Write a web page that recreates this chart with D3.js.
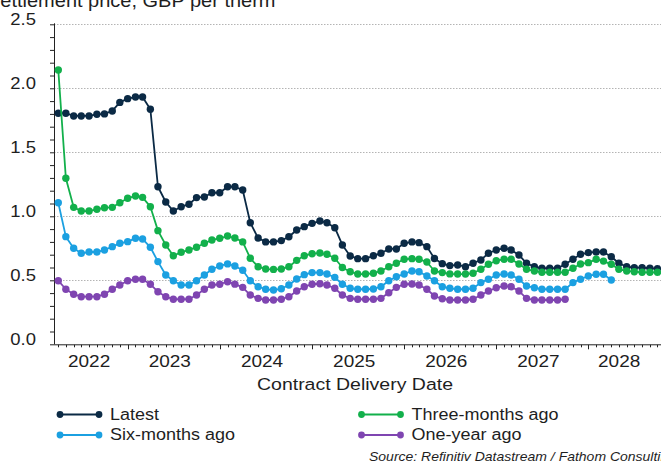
<!DOCTYPE html>
<html><head><meta charset="utf-8">
<script src="https://cdn.jsdelivr.net/npm/d3@7"></script>
<style>
html,body{margin:0;padding:0;background:#fff;overflow:hidden;}
svg{display:block;}
text{font-family:"Liberation Sans",Arial,sans-serif;fill:#1e1e1e;}
</style></head>
<body>
<svg id="chart" width="661" height="461"></svg>
<script>
// ---------- data ----------
const firstContract = new Date(2022, 2, 1); // March 2022 contract (plotted at month end)
const seriesNames = ["Latest", "Three-months ago", "Six-months ago", "One-year ago"];
const latest = [1.805,1.805,1.784,1.784,1.784,1.797,1.80,1.823,1.89,1.919,1.932,1.932,1.836,1.231,1.112,1.041,1.075,1.094,1.146,1.151,1.184,1.184,1.231,1.231,1.205,0.95,0.83,0.80,0.80,0.81,0.84,0.893,0.919,0.945,0.963,0.95,0.911,0.776,0.69,0.669,0.669,0.692,0.711,0.745,0.745,0.789,0.80,0.794,0.763,0.67,0.63,0.615,0.62,0.606,0.633,0.659,0.711,0.737,0.75,0.737,0.698,0.633,0.606,0.594,0.594,0.594,0.625,0.664,0.703,0.716,0.721,0.721,0.684,0.633,0.606,0.599,0.599,0.594,0.591];
const threeMonthsAgo = [2.143,1.297,1.07,1.041,1.041,1.055,1.067,1.07,1.106,1.141,1.159,1.148,1.075,0.888,0.776,0.692,0.719,0.737,0.758,0.789,0.815,0.828,0.846,0.83,0.80,0.672,0.606,0.588,0.585,0.588,0.606,0.656,0.692,0.708,0.713,0.703,0.672,0.60,0.567,0.549,0.549,0.555,0.573,0.606,0.633,0.664,0.669,0.664,0.643,0.573,0.56,0.55,0.549,0.549,0.555,0.586,0.625,0.653,0.664,0.664,0.627,0.586,0.573,0.5625,0.5625,0.5625,0.5625,0.594,0.627,0.638,0.664,0.65,0.625,0.586,0.573,0.567,0.5625,0.5625,0.5625];
const sixMonthsAgo = [1.106,0.841,0.75,0.711,0.721,0.721,0.737,0.763,0.789,0.802,0.828,0.823,0.758,0.646,0.541,0.497,0.463,0.463,0.497,0.541,0.586,0.612,0.628,0.612,0.578,0.497,0.45,0.43,0.424,0.434,0.463,0.51,0.544,0.56,0.56,0.549,0.523,0.469,0.4375,0.43,0.43,0.432,0.45,0.497,0.528,0.549,0.573,0.567,0.534,0.497,0.45,0.4375,0.43,0.43,0.4375,0.482,0.508,0.541,0.549,0.541,0.508,0.455,0.442,0.43,0.43,0.43,0.43,0.482,0.508,0.534,0.547,0.547,0.502];
const oneYearAgo = [0.497,0.43,0.391,0.372,0.372,0.372,0.391,0.43,0.463,0.497,0.508,0.508,0.469,0.411,0.372,0.352,0.352,0.352,0.385,0.43,0.463,0.469,0.489,0.47,0.445,0.385,0.359,0.346,0.346,0.352,0.372,0.416,0.45,0.469,0.473,0.463,0.4375,0.385,0.359,0.352,0.352,0.352,0.359,0.403,0.445,0.469,0.471,0.463,0.43,0.377,0.356,0.346,0.346,0.346,0.352,0.385,0.416,0.442,0.455,0.45,0.416,0.359,0.346,0.346,0.346,0.346,0.352];
const yTickLabels = ["0.0","0.5","1.0","1.5","2.0","2.5"];
const yearLabels = ["2022","2023","2024","2025","2026","2027","2028"];
const titleText = "Settlement price, GBP per therm";
const xAxisTitle = "Contract Delivery Date";
const sourceText = "Source: Refinitiv Datastream / Fathom Consulting";

// ---------- styles ----------
const colors = ["#0b2a45", "#12b04b", "#1ba0e1", "#7f45b1"];
const allSeries = [latest, threeMonthsAgo, sixMonthsAgo, oneYearAgo];

const svg = d3.select("#chart");
const SY = 0.88;
function txt(x, y, s, size, anchor, extra) {
  const t = svg.append("text")
    .attr("transform", `translate(${x},${y}) scale(1,${SY})`)
    .attr("font-size", size)
    .attr("text-anchor", anchor || "start")
    .text(s);
  if (extra) extra(t);
  return t;
}

// scales
const x = d3.scaleTime()
  .domain([new Date(2022, 2, 15), new Date(2028, 9, 15)])
  .range([54, 661]);
const y = d3.scaleLinear().domain([0, 2.5]).range([344.3, 24.3]);

// plotted date = end of contract month (first day of following month)
const dateOf = i => d3.timeMonth.offset(firstContract, i + 1);

// gridlines
svg.append("g").selectAll("line")
  .data(yTickLabels.map(Number).filter(v => v > 0))
  .join("line")
  .attr("x1", 54).attr("x2", 661)
  .attr("y1", d => Math.round(y(d)) + 0.5).attr("y2", d => Math.round(y(d)) + 0.5)
  .attr("stroke", "#b4b4b4").attr("stroke-width", 1)
  .attr("stroke-dasharray", "1.5,1.5");

// y axis
const yAxisG = svg.append("g").attr("transform", "translate(54,0)");
yAxisG.call(d3.axisLeft(y).tickValues(d3.range(0, 2.501, 0.1)).tickSize(4).tickFormat(""));
yAxisG.select(".domain").attr("d", `M0.5,${y(2.5)-1}V${y(0)}`).attr("stroke", "#222");
yAxisG.selectAll(".tick line").attr("stroke", "#222");
yTickLabels.forEach(l => {
  txt(36, y(+l) + 0.5, l, 18.5, "end");
});

// x axis
const xAxisY = 344.3;
const xg = svg.append("g").attr("transform", `translate(0,${xAxisY})`);
xg.append("line").attr("x1", 54).attr("x2", 661).attr("y1", 0.5).attr("y2", 0.5)
  .attr("stroke", "#222").attr("stroke-width", 1);
const monthTicks = d3.timeMonth.range(x.domain()[0], x.domain()[1]);
xg.selectAll("line.mt").data(monthTicks).join("line").attr("class", "mt")
  .attr("x1", d => Math.round(x(d)) + 0.5).attr("x2", d => Math.round(x(d)) + 0.5)
  .attr("y1", 0.5).attr("y2", d => d.getMonth() === 0 ? 5 : 3)
  .attr("stroke", "#222");

const lastDate = dateOf(latest.length - 1);
yearLabels.forEach(yl => {
  const yr = +yl;
  const inYear = monthTicks.filter(d => d.getFullYear() === yr && d < lastDate);
  if (!inYear.length) return;
  const cx = (x(inYear[0]) + x(inYear[inYear.length - 1])) / 2;
  txt(cx, 366.5, yl, 19, "middle");
});
txt(355, 389.5, xAxisTitle, 19.5, "middle");

// title (partly cropped at top-left)
txt(-13, 6.5, titleText, 20, "start");

// series
const line = d3.line().x((d, i) => x(dateOf(i))).y(d => y(d));
allSeries.forEach((vals, si) => {
  const g = svg.append("g");
  g.append("path").datum(vals).attr("d", line)
    .attr("fill", "none").attr("stroke", colors[si]).attr("stroke-width", 1.8)
    .attr("stroke-linejoin", "round");
  g.selectAll("circle").data(vals).join("circle")
    .attr("cx", (d, i) => x(dateOf(i))).attr("cy", d => y(d))
    .attr("r", 3.7).attr("fill", colors[si]);
});

// legend
const legendPos = [
  {lx: 60, ly: 414.5}, {lx: 361.5, ly: 414.5},
  {lx: 60, ly: 435}, {lx: 361.5, ly: 435}
];
seriesNames.forEach((name, i) => {
  const p = legendPos[i];
  const g = svg.append("g");
  g.append("line").attr("x1", p.lx).attr("x2", p.lx + 39).attr("y1", p.ly).attr("y2", p.ly)
    .attr("stroke", colors[i]).attr("stroke-width", 1.8);
  g.append("circle").attr("cx", p.lx).attr("cy", p.ly).attr("r", 3.4).attr("fill", colors[i]);
  g.append("circle").attr("cx", p.lx + 39).attr("cy", p.ly).attr("r", 3.4).attr("fill", colors[i]);
  txt(p.lx + 50, p.ly + 5, name, 18, "start");
});

// source
txt(369, 460.5, sourceText, 14, "start", t => t.attr("font-style", "italic"));
</script>
</body></html>
